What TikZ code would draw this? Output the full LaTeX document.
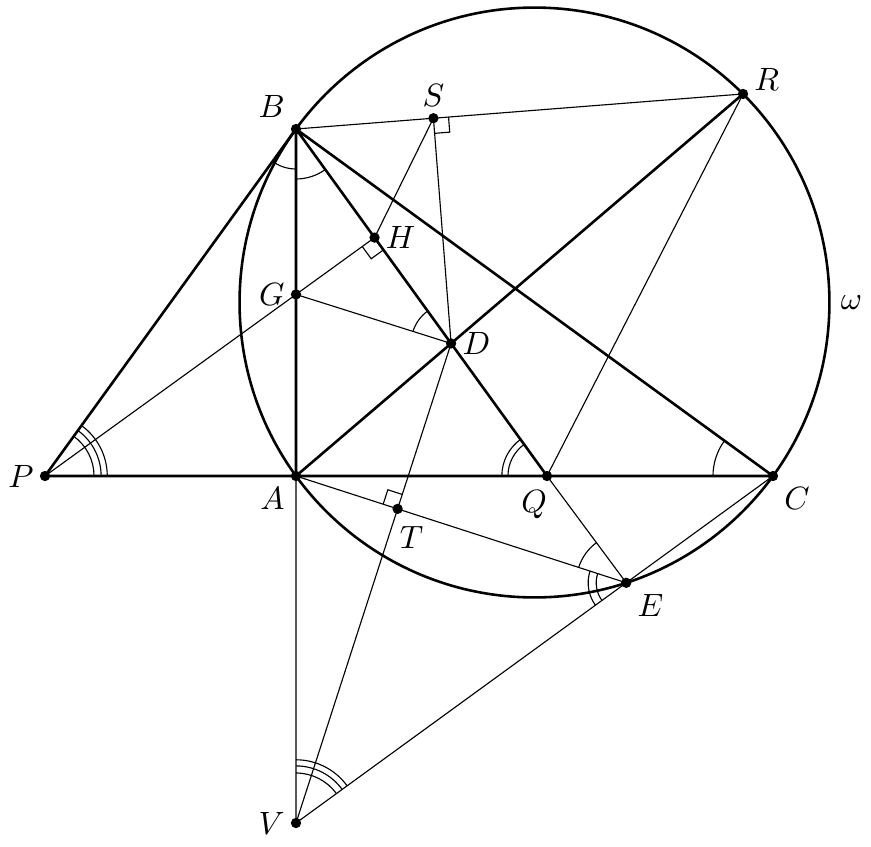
\documentclass[tikz,border=0pt]{standalone}
\usetikzlibrary{angles}
\begin{document}
\begin{tikzpicture}[x=0.0109cm,y=0.0109cm]%
  \tikzstyle{thk}=[line width=0.8pt]
  \tikzstyle{thn}=[line width=0.35pt]
  \tikzstyle{mk}=[draw,line width=0.35pt]
  \useasboundingbox (-296,-370) rectangle (575,476);
  \coordinate (O) at (238.5,173.5);
  \coordinate[label=below left:$A$] (A) at (0,0);
  \coordinate[label=above left:$B$] (B) at (0,347);
  \coordinate[label=below right:$C$] (C) at (477,0);
  \coordinate[label=left:$P$] (P) at (-251,0);
  \coordinate[label={[xshift=-4pt,yshift=-1pt]below:$Q$}] (Q) at (251,0);
  \coordinate[label=left:$V$] (V) at (0,-347);
  \coordinate[label={[yshift=4.5pt]right:$R$}] (R) at (447.05,382.05);
  \coordinate[label=right:$D$] (D) at (155.11,132.56);
  \coordinate[label=right:$H$] (H) at (78.56,238.39);
  \coordinate[label=left:$G$] (G) at (0,181.56);
  \coordinate[label=above:$S$] (S) at (137.43,357.79);
  \coordinate[label={[xshift=4.3pt,yshift=-2pt]below:$T$}] (T) at (101.60,-32.86);
  \coordinate[label=below right:$E$] (E) at (330.23,-106.80);
  \draw[thk] (O) circle (294.93);
  \node[right] (w) at (533.43,173.5) {$\omega$};
  \draw[thk] (P) -- (C) (P) -- (B) -- (A) (B) -- (C) (A) -- (R) (B) -- (Q);
  \draw[thn] (B) -- (R) (S) -- (D) (S) -- (H) (P) -- (H) (G) -- (D) (V) -- (D)
    (A) -- (V) (A) -- (E) (Q) -- (E) (Q) -- (R) (E) -- (C) (E) -- (V);
  \foreach \r in {15.2,17.4,19.3} \pic[mk,angle radius=\r pt]{angle=A--P--B};
  \foreach \r in {15.5,17.7,19.6} \pic[mk,angle radius=\r pt]{angle=E--V--A};
  \foreach \r in {12.1,14} \pic[mk,angle radius=\r pt]{angle=B--Q--A};
  \foreach \r in {9.3,11.8} \pic[mk,angle radius=\r pt]{angle=A--E--V};
  \pic[mk,angle radius=12.4pt]{angle=P--B--A};
  \pic[mk,angle radius=15.5pt]{angle=A--B--Q};
  \pic[mk,angle radius=12.4pt]{angle=B--D--G};
  \pic[mk,angle radius=18.6pt]{angle=B--C--A};
  \pic[mk,angle radius=15.5pt]{angle=Q--E--A};
  \pic[mk,angle radius=4.7pt]{right angle=R--S--D};
  \pic[mk,angle radius=4.7pt]{right angle=G--H--D};
  \pic[mk,angle radius=4.7pt]{right angle=A--T--D};
  \foreach \p in {A,B,C,P,Q,V,R,D,H,G,S,T,E} \fill (\p) circle (1.6pt);
\end{tikzpicture}
\end{document}
